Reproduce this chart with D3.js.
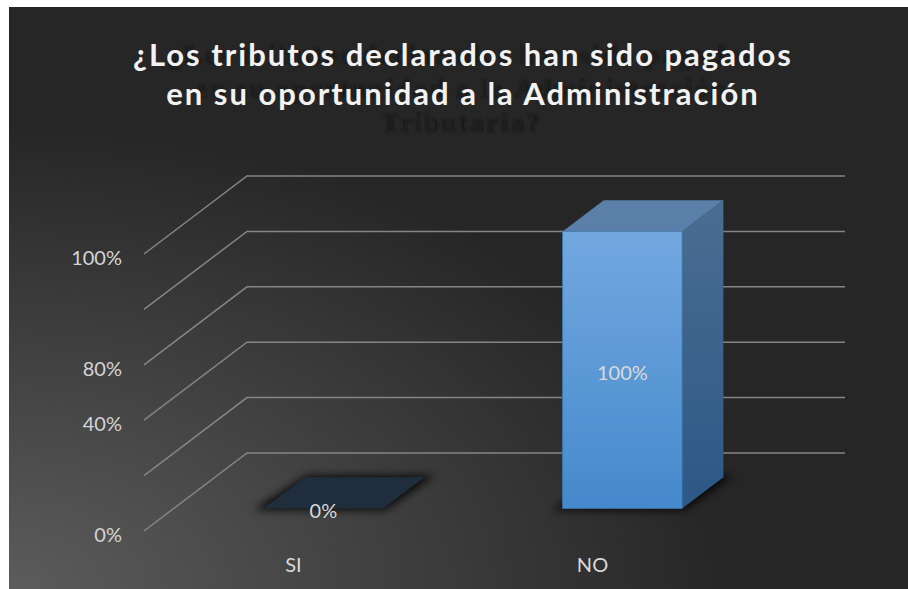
<!DOCTYPE html>
<html>
<head>
<meta charset="utf-8">
<script src="https://cdn.jsdelivr.net/npm/d3@7"></script>
<style>
  body { margin: 0; background: #fff; }
  svg { display: block; }
</style>
</head>
<body>
<div id="chart"></div>
<script>
// chart data
const categories = ["SI", "NO"];
const values = [0, 1];
const valueLabels = ["0%", "100%"];
const gridValues = [0, 0.2, 0.4, 0.6, 0.8, 1];
const tickLabels = ["0%", "", "40%", "80%", "", "100%"];
const titleLines = ["¿Los tributos declarados han sido pagados", "en su oportunidad a la Administración"];
const ghostLines = ["¿Los tributos declarados han sido pagados", "en su oportunidad a la Administración", "Tributaria?"];

const W = 908, H = 589;
const svg = d3.select("#chart").append("svg")
    .attr("width", W)
    .attr("height", H);

const defs = svg.append("defs");
const bg = defs.append("radialGradient")
    .attr("id", "bg")
    .attr("cx", 0).attr("cy", 1).attr("r", 0.8)
    .attr("fx", 0).attr("fy", 1);
bg.append("stop").attr("offset", "0%").attr("stop-color", "#5c5c5c");
bg.append("stop").attr("offset", "100%").attr("stop-color", "#262626");

const front = defs.append("linearGradient").attr("id", "front")
    .attr("x1", 0).attr("y1", 0).attr("x2", 0).attr("y2", 1);
front.append("stop").attr("offset", "0%").attr("stop-color", "#72a8e0");
front.append("stop").attr("offset", "100%").attr("stop-color", "#4589cc");

const side = defs.append("linearGradient").attr("id", "side")
    .attr("x1", 0).attr("y1", 0).attr("x2", 0).attr("y2", 1);
side.append("stop").attr("offset", "0%").attr("stop-color", "#4b6d92");
side.append("stop").attr("offset", "100%").attr("stop-color", "#2c5886");

defs.append("filter").attr("id", "blur")
    .attr("x", "-20%").attr("y", "-50%").attr("width", "140%").attr("height", "200%")
    .append("feGaussianBlur").attr("stdDeviation", 4);
defs.append("filter").attr("id", "soft")
    .append("feGaussianBlur").attr("stdDeviation", 1.3);

svg.append("rect")
    .attr("x", 9).attr("y", 7)
    .attr("width", W - 9).attr("height", H - 7)
    .attr("fill", "url(#bg)");

// ghost title behind
svg.append("g")
    .attr("filter", "url(#soft)")
    .selectAll("text")
    .data(ghostLines)
    .enter()
    .append("text")
    .attr("x", 462)
    .attr("y", (d, i) => 64 + i * 34)
    .attr("text-anchor", "middle")
    .attr("font-family", "Liberation Serif, serif")
    .attr("font-weight", "bold")
    .attr("font-size", "27px")
    .attr("letter-spacing", "2.4px")
    .attr("fill", "#1a1a1a")
    .text(d => d);

// title
svg.append("g")
    .selectAll("text")
    .data(titleLines)
    .enter()
    .append("text")
    .attr("x", 463)
    .attr("y", (d, i) => 66 + i * 39)
    .attr("text-anchor", "middle")
    .attr("font-family", "Lato, sans-serif")
    .attr("font-weight", "bold")
    .attr("font-size", "31px")
    .attr("letter-spacing", "2px")
    .attr("fill", "#f2f2f2")
    .text(d => d);

// 3d projection: front plane scales + depth vector
const x = d3.scaleBand()
    .domain(categories)
    .range([144, 742])
    .paddingInner(0.6)
    .paddingOuter(0.3);
const y = d3.scaleLinear()
    .domain([0, 1])
    .range([531, 254]);
const depth = [103, -78];
const proj = (px, v, d) => [px + d * depth[0], y(v) + d * depth[1]];
const x0 = x.range()[0], x1 = x.range()[1];

// gridlines: side floor diagonal + back wall
const grid = svg.append("g")
    .attr("stroke", "#858585")
    .attr("stroke-width", 1.5)
    .attr("fill", "none");
grid.selectAll("path")
    .data(gridValues)
    .enter()
    .append("path")
    .attr("d", v => d3.line()([proj(x0, v, 0), proj(x0, v, 1), proj(x1, v, 1)]));

// y tick labels
svg.append("g")
    .selectAll("text")
    .data(gridValues)
    .enter()
    .append("text")
    .attr("x", 122)
    .attr("y", v => y(v) + 4)
    .attr("dy", "0.35em")
    .attr("text-anchor", "end")
    .attr("font-family", "Lato, sans-serif")
    .attr("font-size", "20px")
    .attr("fill", "#d4d4d4")
    .text((v, i) => tickLabels[i]);

// bars
const dFront = 0.29, dBack = 0.69;
const bars = svg.append("g");
categories.forEach((c, i) => {
    const v = values[i];
    const l = x(c), r = x(c) + x.bandwidth();
    const pts = (arr) => arr.map(p => p.join(",")).join(" ");
    const g = bars.append("g");
    // shadow
    g.append("polygon")
        .attr("points", pts([proj(l - 8, 0, dFront - 0.02), proj(r + 4, 0, dFront - 0.02), proj(r + 8, 0, dBack + 0.02), proj(l, 0, dBack + 0.02)]))
        .attr("fill", "#000")
        .attr("opacity", 0.85)
        .attr("filter", "url(#blur)");
    if (v > 0) {
        // side face
        g.append("polygon")
            .attr("points", pts([proj(r, 0, dFront), proj(r, v, dFront), proj(r, v, dBack), proj(r, 0, dBack)]))
            .attr("fill", "url(#side)");
        // top face
        g.append("polygon")
            .attr("points", pts([proj(l, v, dFront), proj(r, v, dFront), proj(r, v, dBack), proj(l, v, dBack)]))
            .attr("fill", "#5a7fa8");
        // front face
        g.append("polygon")
            .attr("points", pts([proj(l, 0, dFront), proj(r, 0, dFront), proj(r, v, dFront), proj(l, v, dFront)]))
            .attr("fill", "url(#front)")
            .attr("stroke", "#3f78b3")
            .attr("stroke-width", 0.8);
    } else {
        g.append("polygon")
            .attr("points", pts([proj(l, 0, dFront), proj(r, 0, dFront), proj(r, 0, dBack), proj(l, 0, dBack)]))
            .attr("fill", "#202d3c");
    }
    // data label
    const fTop = proj(l, v, dFront), fBot = proj(r, 0, dFront);
    g.append("text")
        .attr("x", (fTop[0] + fBot[0]) / 2)
        .attr("y", (fTop[1] + fBot[1]) / 2 + 3)
        .attr("dy", "0.35em")
        .attr("text-anchor", "middle")
        .attr("font-family", "Lato, sans-serif")
        .attr("font-size", "20px")
        .attr("fill", "#d9d9d9")
        .text(valueLabels[i]);
});

// category labels
svg.append("g")
    .selectAll("text")
    .data(categories)
    .enter()
    .append("text")
    .attr("x", c => x(c) + x.bandwidth() / 2)
    .attr("y", y(0) + 41)
    .attr("text-anchor", "middle")
    .attr("font-family", "Lato, sans-serif")
    .attr("font-size", "20px")
    .attr("fill", "#d9d9d9")
    .text(c => c);
</script>
</body>
</html>
